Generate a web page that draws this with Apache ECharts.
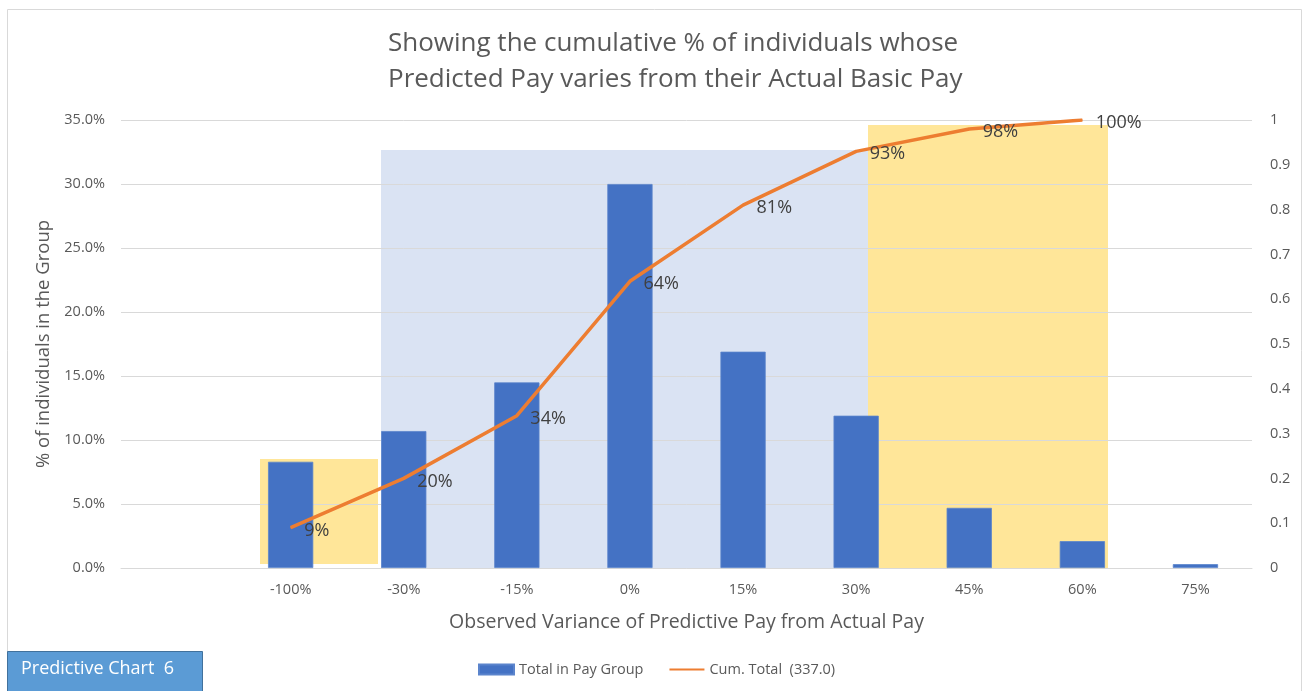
<!DOCTYPE html>
<html><head><meta charset="utf-8">
<script src="https://cdn.jsdelivr.net/npm/echarts@6/dist/echarts.min.js"></script>
<style>html,body{margin:0;padding:0;background:#fff}#c{width:1306px;height:691px}</style>
</head><body><div id="c"></div>
<script>
var categories = ['', '-100%', '-30%', '-15%', '0%', '15%', '30%', '45%', '60%', '75%'];
var payGroupShare = [null, 0.083, 0.107, 0.145, 0.300, 0.169, 0.119, 0.047, 0.021, 0.003];
var cumulativeShare = [null, 0.09, 0.20, 0.34, 0.64, 0.81, 0.93, 0.98, 1.00, null];
var leftTicks = ['0.0%','5.0%','10.0%','15.0%','20.0%','25.0%','30.0%','35.0%'];

var FONT = 'Open Sans, Liberation Sans, sans-serif';
var chart = echarts.init(document.getElementById('c'));
chart.setOption({
  animation: false,
  textStyle: {fontFamily: FONT},
  title: {
    text: 'Showing the cumulative % of individuals whose\nPredicted Pay varies from their Actual Basic Pay',
    left: 383, top: 21, textAlign: 'left',
    textStyle: {fontSize: 26, fontWeight: 'normal', color: '#595959', lineHeight: 36, fontFamily: FONT, align: 'center', width: 570}
  },
  graphic: [
    {type: 'rect', z: -10, shape: {x: 7.5, y: 9.5, width: 1294, height: 700}, style: {fill: 'none', stroke: '#d9d9d9', lineWidth: 1}},
    {type: 'rect', z: -5, shape: {x: 260, y: 459, width: 118, height: 105}, style: {fill: '#ffe699'}},
    {type: 'rect', z: -5, shape: {x: 381, y: 150, width: 487, height: 418}, style: {fill: '#dae3f3'}},
    {type: 'rect', z: -5, shape: {x: 868, y: 125, width: 240, height: 443}, style: {fill: '#ffe699'}},
    {type: 'rect', z: 10, shape: {x: 7.5, y: 651.5, width: 195, height: 45}, style: {fill: '#5b9bd5', stroke: '#41719c', lineWidth: 1}},
    {type: 'text', z: 11, left: 21, top: 660, style: {text: 'Predictive Chart  6', fill: '#ffffff', font: '18px ' + FONT}}
  ],
  legend: {
    bottom: 9, left: 473, itemGap: 26, itemWidth: 35, itemHeight: 10,
    textStyle: {color: '#595959', fontSize: 14.5, fontFamily: FONT},
    data: [
      {name: 'Total in Pay Group', icon: 'rect'},
      {name: 'Cum. Total  (337.0)', icon: 'path://M0,4 L40,4 L40,6.5 L0,6.5 Z', itemStyle: {color: '#ed7d31'}}
    ]
  },
  grid: {left: 121, right: 54, top: 120, bottom: 123},
  xAxis: {
    type: 'category', data: categories,
    axisTick: {show: false},
    axisLine: {lineStyle: {color: '#d9d9d9', width: 1}},
    axisLabel: {color: '#595959', fontSize: 14.5, margin: 14},
    name: 'Observed Variance of Predictive Pay from Actual Pay',
    nameLocation: 'middle', nameGap: 44,
    nameTextStyle: {color: '#595959', fontSize: 19.5}
  },
  yAxis: [
    {
      type: 'value', min: 0, max: 0.35, interval: 0.05,
      axisLabel: {color: '#595959', fontSize: 14.5, margin: 16, formatter: function (v) { return leftTicks[Math.round(v / 0.05)]; }},
      splitLine: {lineStyle: {color: '#d9d9d9'}},
      axisLine: {show: false}, axisTick: {show: false},
      name: '% of individuals in the Group', nameLocation: 'middle', nameGap: 66,
      nameTextStyle: {color: '#595959', fontSize: 18.5}
    },
    {
      type: 'value', min: 0, max: 1, interval: 0.1,
      axisLabel: {color: '#595959', fontSize: 14.5, margin: 18, formatter: function (v) { return String(Math.round(v * 10) / 10); }},
      splitLine: {show: false}, axisLine: {show: false}, axisTick: {show: false}
    }
  ],
  series: [
    {
      name: 'Total in Pay Group', type: 'bar', data: payGroupShare, barWidth: '40%',
      itemStyle: {color: '#4472c4', borderColor: '#5b84cc', borderWidth: 0.8}
    },
    {
      name: 'Cum. Total  (337.0)', type: 'line', yAxisIndex: 1, data: cumulativeShare,
      symbol: 'circle', symbolSize: 1, showSymbol: true, smooth: false,
      lineStyle: {color: '#ed7d31', width: 3.5}, itemStyle: {color: '#ed7d31'},
      label: {
        show: true, position: 'right', distance: 13, offset: [0, 3],
        color: '#404040', fontSize: 18, fontFamily: FONT,
        formatter: function (p) { return Math.round(p.value * 100) + '%'; }
      }
    }
  ]
});
</script></body></html>
